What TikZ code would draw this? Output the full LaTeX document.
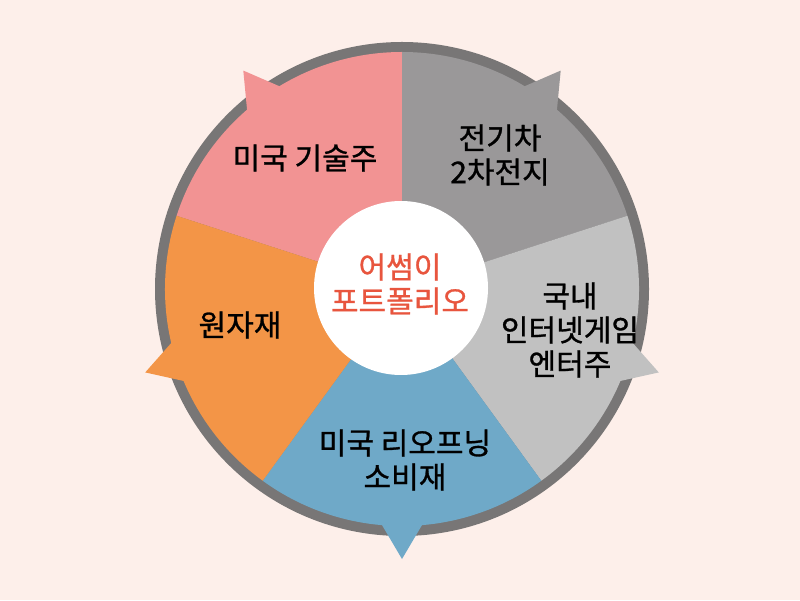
\documentclass[tikz,border=0pt]{standalone}
\usepackage{fontspec}
\usetikzlibrary{calc}
\setmainfont{Noto Sans CJK KR}
\newfontfamily\medfont{Noto Sans CJK KR}[FakeBold=1]
\begin{document}
\begin{tikzpicture}[x=1pt,y=1pt,
  lbl/.style={font=\fontsize{30}{34}\selectfont\medfont, align=center, text=black}]
\definecolor{bg}{HTML}{FDEFEA}
\definecolor{ring}{HTML}{787676}
\definecolor{cpink}{HTML}{F29393}
\definecolor{cdgray}{HTML}{9A9899}
\definecolor{clgray}{HTML}{C1C1C1}
\definecolor{cblue}{HTML}{6FA9C8}
\definecolor{corange}{HTML}{F39547}
\definecolor{ctitle}{HTML}{E8553E}
\fill[bg] (0,0) rectangle (800,600);
\useasboundingbox (0,0) rectangle (800,600);
\coordinate (c) at (402,311);
\fill[ring] (c) circle (247);
\foreach \a/\b/\col in {90/162/cpink, 18/90/cdgray, -54/18/clgray, -126/-54/cblue, 162/234/corange}{
  \fill[\col] (c) -- ++(\a:237) arc (\a:\b:237) -- cycle;
}
\foreach \t/\col in {126/cpink, 54/cdgray, -18/clgray, -90/cblue, 198/corange}{
  \fill[\col] ($(c)+(\t-5:236)$) -- ($(c)+(\t:270)$) -- ($(c)+(\t+5:236)$) -- cycle;
}
\node[circle, fill=white, minimum size=174pt, inner sep=0] (mid) at ($(c)+(-1,1)$) {};
\node[lbl, text=ctitle] (title) at ($(c)+(-2,5)$) {어썸이\\포트폴리오};
\node[lbl] (s1) at (305,442) {미국 기술주};
\node[lbl] (s2) at (500,445) {전기차\\2차전지};
\node[lbl] (s3) at (570,270) {국내\\인터넷게임\\엔터주};
\node[lbl] (s4) at (405,140) {미국 리오프닝\\소비재};
\node[lbl] (s5) at (240,275) {원자재};
\end{tikzpicture}
\end{document}
